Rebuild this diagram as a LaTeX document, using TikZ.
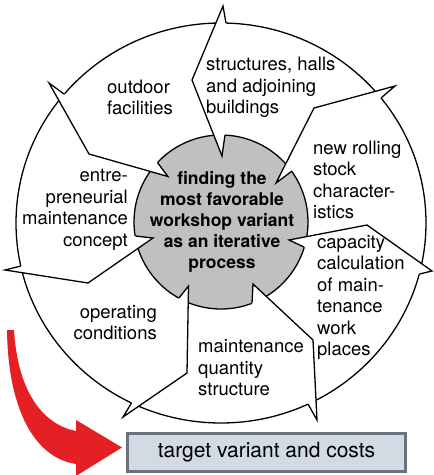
\documentclass[tikz,border=0pt]{standalone}
\usepackage{fontspec}
\setmainfont{TeX Gyre Heros}
\usetikzlibrary{calc}
\definecolor{discgray}{RGB}{192,192,194}
\definecolor{boxfill}{RGB}{210,218,228}
\definecolor{boxline}{RGB}{105,115,125}
\definecolor{arrowred}{RGB}{228,32,36}
\newcommand\mkdivider[8]{%
  \coordinate (#1ti) at (#2);
  \coordinate (#1a) at (#3);
  \coordinate (#1b) at (#4);
  \coordinate (#1k) at (#5);
  \coordinate (#1to) at (#6);
  \coordinate (#1c) at (#7);
  \coordinate (#1d) at (#8);
  \fill[white] (#1ti) -- ($(#1ti)!1.5!(#1a)$) -- ($(#1ti)!1.5!(#1b)$) -- cycle;
  \fill[white] (#1to) -- ($(#1to)!1.5!(#1c)$) -- ($(#1to)!1.5!(#1d)$) -- cycle;
  \draw[divline] (#1b) -- (#1ti) -- (#1k) -- (#1to) -- (#1d);
}
\begin{document}
\begin{tikzpicture}[x=1pt,y=-1pt,
  ring/.style={draw=black, line width=1.3pt},
  divline/.style={draw=black, line width=1.3pt, line join=miter, miter limit=20},
  lbl/.style={inner sep=0pt, font=\fontsize{18.5}{21.5}\selectfont},
  ctr/.style={inner sep=0pt, align=center, font=\bfseries\fontsize{17.5}{21}\selectfont},
  targetbox/.style={draw=boxline, fill=boxfill, line width=2.5pt, minimum width=278, minimum height=38, inner sep=0pt, font=\fontsize{21}{24}\selectfont}]
\useasboundingbox (0,0) rectangle (434,475);
\fill[white] (0,0) rectangle (434,475);
\coordinate (O) at (221,222);
\coordinate (Oo) at (221,223);
\draw[ring, fill=white] (Oo) ellipse [x radius=205, y radius=200];
\draw[ring, fill=discgray] (O) circle [radius=87];
% dividers: name, Tin, A, B, K, Tout, C, D
\mkdivider{d1}{222,156}{213.8,135.3}{225,135.1}{192,80}{223,6}{215.9,23}{226,23.1}
\mkdivider{d2}{276,183}{285.7,163.8}{292,171}{314,108}{395,86}{375.3,91.3}{381,98}
\mkdivider{d3}{289,240}{306.8,236.6}{304,247}{367,225}{432,271}{421.7,263.7}{419.5,274}
\mkdivider{d4}{253,284}{266.2,296.3}{252,303}{313,340}{317,420}{316,400}{308,404}
\mkdivider{d5}{188.5,286}{188.2,302.6}{179,298}{187,373}{123,417}{138,406.5}{131.5,403}
\mkdivider{d6}{153,238}{138.1,248.3}{135.5,236}{88,283}{5,270}{22.4,272.7}{21,266}
\mkdivider{d7}{168,176.5}{150.2,171.4}{157.5,162.5}{89,154}{49,83}{58.9,100.5}{64,94}
% labels
\node[lbl, anchor=west, align=left] (structures) at (206,87.5) {structures, halls\\and adjoining\\buildings};
\node[lbl, anchor=west, align=left] (outdoor) at (107,97.5) {outdoor\\facilities};
\node[lbl, anchor=west, align=left] (rolling) at (313,180) {new rolling\\stock\\character-\\istics};
\node[lbl, anchor=east, align=right] (entre) at (128,210) {entre-\\preneurial\\maintenance\\concept};
\node[ctr] (center) at (222,221.5) {finding the\\most favorable\\workshop variant\\as an iterative\\process};
\node[lbl, anchor=west, align=left] (capacity) at (317,297.5) {capacity\\calculation\\of main-\\tenance\\work\\places};
\node[lbl, anchor=east, align=right] (operating) at (157,322.5) {operating\\conditions};
\node[lbl, anchor=west, align=left] (quantity) at (198,368) {maintenance\\quantity\\structure};
% target box
\node[targetbox] (target) at (266.5,452.5) {target variant and costs};
% red arrow
\fill[arrowred] (7,330) .. controls (8,410) and (35,458) .. (76,464)
  -- (76,476) -- (122,447.5) -- (76,420) -- (76,431)
  .. controls (45,425) and (18,395) .. (14,330) -- cycle;
\end{tikzpicture}
\end{document}
